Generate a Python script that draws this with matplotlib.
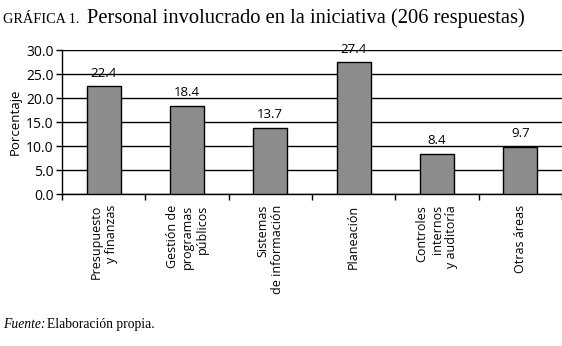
import matplotlib.pyplot as plt
import numpy as np

# data
categories = [
    'Presupuesto\ny finanzas',
    'Gestión de\nprogramas\npúblicos',
    'Sistemas\nde información',
    'Planeación',
    'Controles\ninternos\ny auditoría',
    'Otras áreas',
]
values = [22.4, 18.4, 13.7, 27.4, 8.4, 9.7]
y_ticks = [0, 5, 10, 15, 20, 25, 30]

SANS = ['Open Sans', 'DejaVu Sans']
SERIF = ['Liberation Serif', 'DejaVu Serif']

plt.rcParams['font.family'] = SANS

fig = plt.figure(figsize=(5.62, 3.46), dpi=100)
W, H = 562, 346
ax = fig.add_axes([62 / W, (H - 194) / H, 500 / W, 144 / H])

x = np.arange(len(categories))
ax.bar(x, values, width=0.41, color='#8c8c8e', edgecolor='black',
       linewidth=1, zorder=3)

for xi, v in zip(x, values):
    ax.annotate(f'{v:.1f}', (xi, v), xytext=(0, 5), textcoords='offset points',
                ha='center', va='bottom', fontsize=9.5, color='black')

ax.set_ylim(0, 30)
ax.set_xlim(-0.5, 5.43)
ax.set_yticks(y_ticks)
ax.set_yticklabels([f'{t:.1f}' for t in y_ticks], fontsize=10)
ax.yaxis.grid(True, color='black', linewidth=1, zorder=0)
ax.set_axisbelow(True)

ax.set_xticks(x)
ax.set_xticklabels(categories, rotation=90, fontsize=9, va='top', ha='center',
                   multialignment='right')
ax.set_xticks(np.arange(-0.5, len(categories), 1.0), minor=True)
ax.tick_params(axis='x', which='major', length=0, pad=8)
ax.tick_params(axis='x', which='minor', length=4, width=1, direction='out')
ax.tick_params(axis='y', length=4, width=1, direction='out', pad=2)

for s in ['top', 'right']:
    ax.spines[s].set_visible(False)
for s in ['left', 'bottom']:
    ax.spines[s].set_linewidth(1)
    ax.spines[s].set_color('black')

ax.set_ylabel('Porcentaje', fontsize=9.5, labelpad=3)

# title
fig.text(3 / W, 1 - 23 / H, 'GRÁFICA 1.', family=SERIF, fontsize=10.3,
         ha='left', va='baseline')
fig.text(87 / W, 1 - 23 / H, 'Personal involucrado en la iniciativa (206 respuestas)',
         family=SERIF, fontsize=14.8, ha='left', va='baseline')

# source
fig.text(3 / W, 1 - 328 / H, 'Fuente:', family=SERIF, style='italic',
         fontsize=9.8, ha='left', va='baseline')
fig.text(47 / W, 1 - 328 / H, 'Elaboración propia.', family=SERIF,
         fontsize=9.8, ha='left', va='baseline')

fig.savefig('out.png', dpi=100)
